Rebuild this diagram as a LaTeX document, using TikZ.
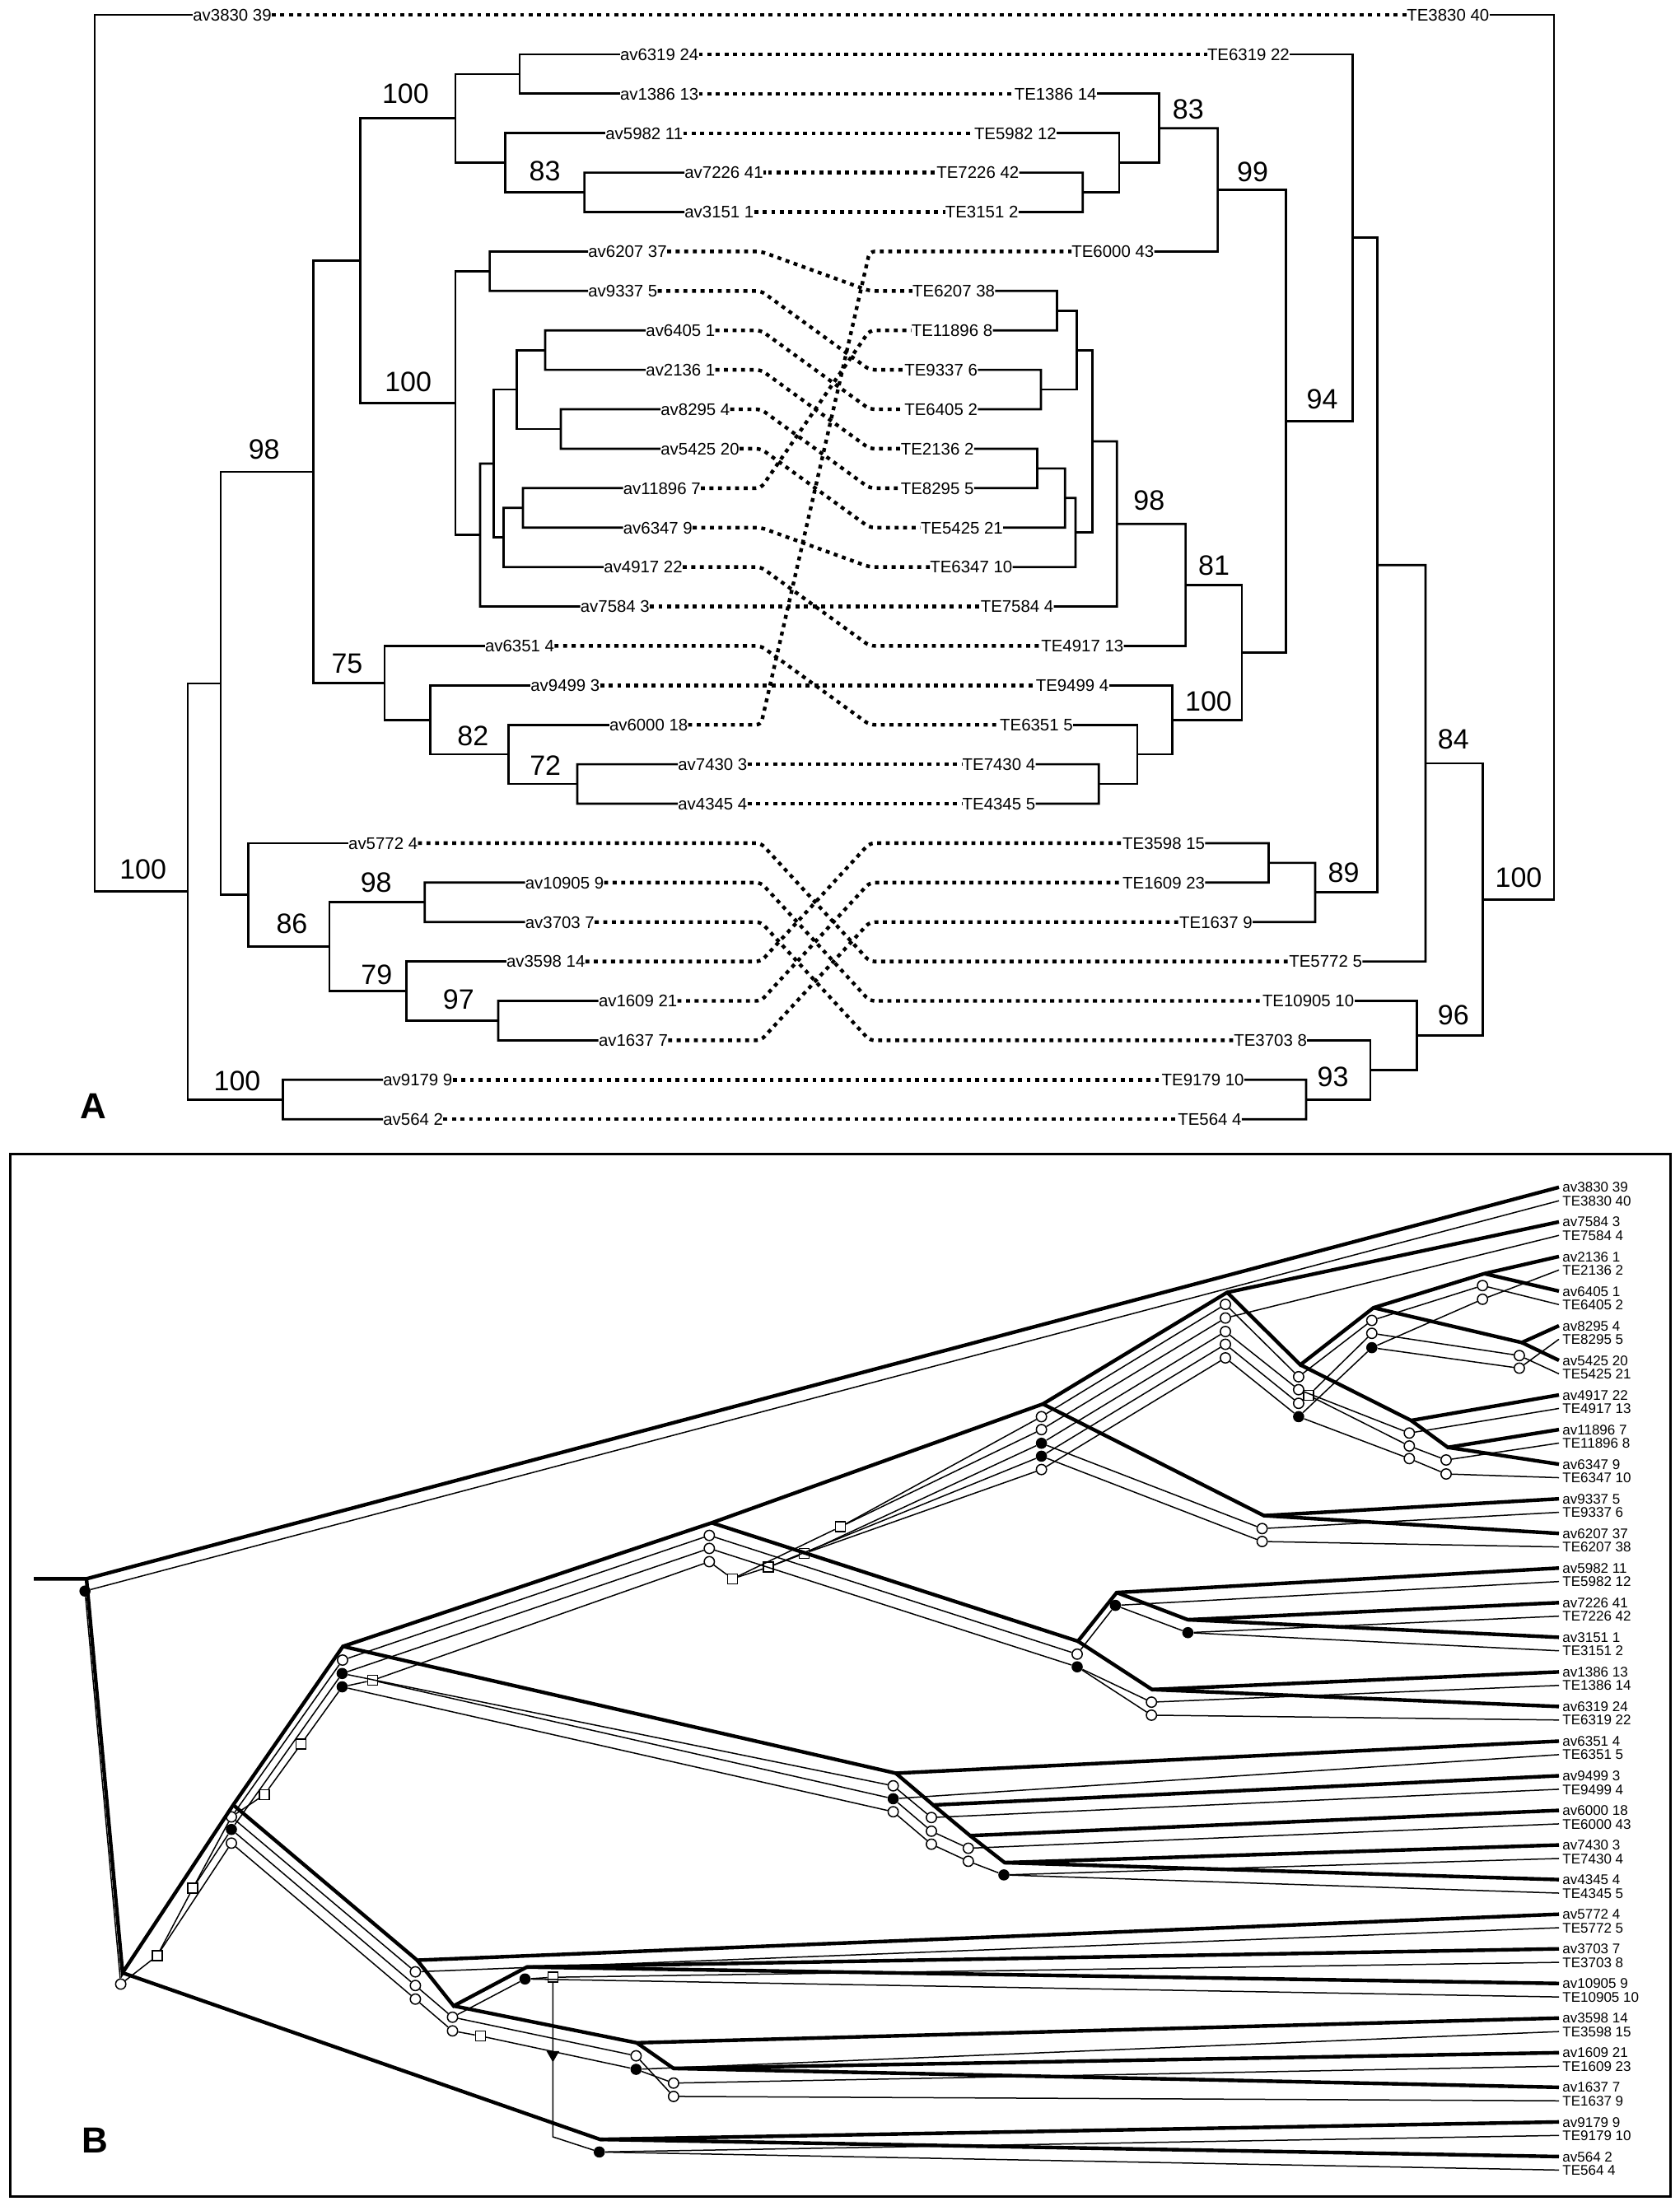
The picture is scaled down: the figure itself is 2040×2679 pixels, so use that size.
\documentclass[tikz,border=0pt]{standalone}
\usepackage{fontspec}
\setmainfont{Liberation Sans}
\usetikzlibrary{shapes.geometric}

\begin{document}
\begin{tikzpicture}[x=0.5pt, y=-0.5pt,
        br/.style={line width=1.35pt},
        assoc/.style={line width=2.2pt, dash pattern=on 2.4pt off 2.8pt, rounded corners=3pt},
        leaf/.style={anchor=west, inner sep=0pt, font=\fontsize{10.2}{12}\selectfont, text height=7.3pt, text depth=0pt},
        boot/.style={inner sep=0pt, font=\fontsize{17}{20}\selectfont},
        panel/.style={inner sep=0pt, font=\fontsize{22}{26}\selectfont\bfseries},
        host/.style={line width=2.2pt},
        para/.style={line width=0.75pt},
        bleaf/.style={anchor=west, inner xsep=2pt, inner ysep=0pt, font=\fontsize{8.5}{10}\selectfont, text height=6.1pt, text depth=0pt},
        loss/.style={circle, draw, line width=0.75pt, fill=white, inner sep=0pt, minimum size=6.2pt},
        cosp/.style={circle, fill=black, inner sep=0pt, minimum size=6.8pt},
        dupl/.style={rectangle, draw, line width=0.75pt, fill=white, inner sep=0pt, minimum size=6pt},
        swt/.style={regular polygon, regular polygon sides=3, shape border rotate=180, fill=black, inner sep=0pt, minimum size=9pt}
        ]
        \useasboundingbox (0,0) rectangle (2040,2679);

        % ---------- panel A: labels ----------
        \foreach \n/\s/\x [count=\i from 0] in {3830/39/234, 6319/24/752.6, 1386/13/752.6, 5982/11/735, 7226/41/831, 3151/1/831, 6207/37/714, 9337/5/714, 6405/1/784, 2136/1/784, 8295/4/802, 5425/20/802, 11896/7/756.5, 6347/9/756.5, 4917/22/733, 7584/3/704.5, 6351/4/588.7, 9499/3/644, 6000/18/739.6, 7430/3/823, 4345/4/823, 5772/4/422.8, 10905/9/637.5, 3703/7/637.5, 3598/14/614.7, 1609/21/726.6, 1637/7/726.6, 9179/9/465, 564/2/465}
            \node[leaf] (a\n) at (\x, {18+47.9*\i}) {av\n\ \s};
        \foreach \n/\s/\x [count=\i from 0] in {3830/40/1708, 6319/22/1465.6, 1386/14/1231.4, 5982/12/1182.6, 7226/42/1137, 3151/2/1147.5, 6000/43/1301, 6207/38/1107.8, 11896/8/1106.5, 9337/6/1098, 6405/2/1098, 2136/2/1093.5, 8295/5/1093.5, 5425/21/1117.6, 6347/10/1129, 7584/4/1190.4, 4917/13/1264, 9499/4/1257.4, 6351/5/1213.8, 7430/4/1168.3, 4345/5/1168.3, 3598/15/1362.8, 1609/23/1362.8, 1637/9/1431.8, 5772/5/1565, 10905/10/1532.6, 3703/8/1498, 9179/10/1410.3, 564/4/1430}
            \node[leaf] (t\n) at (\x, {18+47.9*\i}) {TE\n\ \s};

        % associations
        \coordinate (kl) at (924,0);
        \coordinate (kr) at (1056,0);
        \foreach \n in {3830, 6319, 1386, 5982, 7226, 3151, 6207, 9337, 6405, 2136, 8295, 5425, 11896, 6347, 4917, 7584, 6351, 9499, 6000, 7430, 4345, 5772, 10905, 3703, 3598, 1609, 1637, 9179, 564}
            \draw[assoc] (a\n.east) -- (a\n.east -| kl) -- (t\n.west -| kr) -- (t\n.west);

        % left tree
        \draw[br] (a3830.west) -| (115,1082.55) -- (228,1082.55);
        \draw[br] (268,829.85) -| (228,1335.25) -- (343.5,1335.25);
        \draw[br] (a9179.west) -| (343.5,1359.2) -- (a564.west);
        \draw[br] (380.5,572.95) -| (268,1086.75) -- (301.2,1086.75);
        \draw[br] (437.8,316.6) -| (380.5,829.3) -- (467,829.3);
        \draw[br] (553,143.7) -| (437.8,489.5) -- (553,489.5);
        \draw[br] (631,89.85) -| (553,197.6) -- (613.4,197.6);
        \draw[br] (a6319.west) -| (631,113.8) -- (a1386.west);
        \draw[br] (a5982.west) -| (613.4,233.55) -- (709.6,233.55);
        \draw[br] (a7226.west) -| (709.6,257.5) -- (a3151.west);
        \draw[br] (594.6,329.35) -| (553,649.7) -- (583,649.7);
        \draw[br] (a6207.west) -| (594.6,353.3) -- (a9337.west);
        \draw[br] (599.8,562.9) -| (583,736.5) -- (a7584.west);
        \draw[br] (627.7,473.05) -| (599.8,652.7) -- (611.5,652.7);
        \draw[br] (662,425.15) -| (627.7,520.95) -- (681,520.95);
        \draw[br] (a6405.west) -| (662,449.1) -- (a2136.west);
        \draw[br] (a8295.west) -| (681,544.9) -- (a5425.west);
        \draw[br] (635,616.75) -| (611.5,688.6) -- (a4917.west);
        \draw[br] (a11896.west) -| (635,640.7) -- (a6347.west);
        \draw[br] (a6351.west) -| (467,874.2) -- (522.6,874.2);
        \draw[br] (a9499.west) -| (522.6,916.1) -- (617.5,916.1);
        \draw[br] (a6000.west) -| (617.5,952) -- (701,952);
        \draw[br] (a7430.west) -| (701,976) -- (a4345.west);
        \draw[br] (a5772.west) -| (301.2,1149.6) -- (400,1149.6);
        \draw[br] (515.8,1095.75) -| (400,1203.5) -- (493.8,1203.5);
        \draw[br] (a10905.west) -| (515.8,1119.7) -- (a3703.west);
        \draw[br] (a3598.west) -| (493.8,1239.45) -- (605,1239.45);
        \draw[br] (a1609.west) -| (605,1263.4) -- (a1637.west);

        % right tree
        \draw[br] (t3830.east) -| (1887,1092.15) -- (1800.6,1092.15);
        \draw[br] (1731,926.9) -| (1800.6,1257.4) -- (1720.6,1257.4);
        \draw[br] (1672.5,686.2) -| (1731,1167.6) -- (t5772.east);
        \draw[br] (1642.5,288.65) -| (1672.5,1083.8) -- (1597,1083.8);
        \draw[br] (t6319.east) -| (1642.5,511.4) -- (1561.8,511.4);
        \draw[br] (1478.6,230.55) -| (1561.8,792.25) -- (1507.9,792.25);
        \draw[br] (1407.7,155.7) -| (1478.6,305.4) -- (t6000.east);
        \draw[br] (t1386.east) -| (1407.7,197.6) -- (1359,197.6);
        \draw[br] (t5982.east) -| (1359,233.55) -- (1314.7,233.55);
        \draw[br] (t7226.east) -| (1314.7,257.5) -- (t3151.east);
        \draw[br] (1439.6,710.3) -| (1507.9,874.2) -- (1423.3,874.2);
        \draw[br] (1356.3,636.2) -| (1439.6,784.4) -- (t4917.east);
        \draw[br] (1326.4,535.9) -| (1356.3,736.5) -- (t7584.east);
        \draw[br] (1307.6,425.15) -| (1326.4,646.7) -- (1306,646.7);
        \draw[br] (1283.5,377.25) -| (1307.6,473.05) -- (1264,473.05);
        \draw[br] (t6207.east) -| (1283.5,401.2) -- (t11896.east);
        \draw[br] (t9337.east) -| (1264,497) -- (t6405.east);
        \draw[br] (1293.2,604.8) -| (1306,688.6) -- (t6347.east);
        \draw[br] (1259.4,568.85) -| (1293.2,640.7) -- (t5425.east);
        \draw[br] (t2136.east) -| (1259.4,592.8) -- (t8295.east);
        \draw[br] (t9499.east) -| (1423.3,916.1) -- (1381,916.1);
        \draw[br] (t6351.east) -| (1381,952.05) -- (1334.2,952.05);
        \draw[br] (t7430.east) -| (1334.2,976) -- (t4345.east);
        \draw[br] (1540.4,1047.85) -| (1597,1119.7) -- (t1637.east);
        \draw[br] (t3598.east) -| (1540.4,1071.8) -- (t1609.east);
        \draw[br] (t10905.east) -| (1720.6,1299.3) -- (1664,1299.3);
        \draw[br] (t3703.east) -| (1664,1335.25) -- (1586,1335.25);
        \draw[br] (t9179.east) -| (1586,1359.2) -- (t564.east);

        % support values
        \node[boot] (s1) at (173.7,1056) {100};
        \node[boot] (s2) at (288,1312.6) {100};
        \node[boot] (s3) at (320.7,545.5) {98};
        \node[boot] (s4) at (421.5,806) {75};
        \node[boot] (s5) at (492.4,113.8) {100};
        \node[boot] (s6) at (495.7,464) {100};
        \node[boot] (s7) at (661.6,207.6) {83};
        \node[boot] (s8) at (574.4,893.4) {82};
        \node[boot] (s9) at (662.2,930) {72};
        \node[boot] (s10) at (354.5,1121.6) {86};
        \node[boot] (s11) at (456.7,1071.5) {98};
        \node[boot] (s12) at (457.3,1183.6) {79};
        \node[boot] (s13) at (556.8,1214) {97};
        \node[boot] (s14) at (1442.8,133) {83};
        \node[boot] (s15) at (1521,208.5) {99};
        \node[boot] (s16) at (1605.5,484.3) {94};
        \node[boot] (s17) at (1395.3,608) {98};
        \node[boot] (s18) at (1474,686.7) {81};
        \node[boot] (s19) at (1467.5,852) {100};
        \node[boot] (s20) at (1764.8,898) {84};
        \node[boot] (s21) at (1844,1065.6) {100};
        \node[boot] (s22) at (1631.5,1060) {89};
        \node[boot] (s23) at (1764.8,1233) {96};
        \node[boot] (s24) at (1618.5,1307.6) {93};
        \node[panel] (pa) at (113,1343) {A};

        % ---------- panel B ----------
        \draw[line width=1.5pt] (12,1401) rectangle (2028,2667);
        \node[panel] (pb) at (115,2599) {B};
        \foreach \n/\s/\t [count=\k from 0] in {3830/39/40, 7584/3/4, 2136/1/2, 6405/1/2, 8295/4/5, 5425/20/21, 4917/22/13, 11896/7/8, 6347/9/10, 9337/5/6, 6207/37/38, 5982/11/12, 7226/41/42, 3151/1/2, 1386/13/14, 6319/24/22, 6351/4/5, 9499/3/4, 6000/18/43, 7430/3/4, 4345/4/5, 5772/4/5, 3703/7/8, 10905/9/10, 3598/14/15, 1609/21/23, 1637/7/9, 9179/9/10, 564/2/4}
        {
            \node[bleaf] (ba\n) at (1893, {1441.8+42.04*\k}) {av\n\ \s};
            \node[bleaf] (bt\n) at (1893, {1458.2+42.04*\k}) {TE\n\ \t};
        }

        % host nodes
        \coordinate (h0) at (41.2,1917.3);
        \coordinate (hR) at (105,1917.3);
        \coordinate (h1) at (148.8,2395.8);
        \coordinate (h2) at (283.2,2191.9);
        \coordinate (h3) at (416.4,1999.4);
        \coordinate (h4) at (864.3,1849.3);
        \coordinate (h6) at (1266.4,1705);
        \coordinate (h7) at (1490.1,1569.5);
        \coordinate (h8) at (1579,1657.4);
        \coordinate (h9) at (1667.9,1588.1);
        \coordinate (h6405) at (1802.4,1546.7);
        \coordinate (h8295) at (1847.9,1630.4);
        \coordinate (h4917) at (1713.5,1725);
        \coordinate (h11896) at (1758.1,1757.7);
        \coordinate (h6207) at (1534.8,1840.6);
        \coordinate (h5) at (1308.9,1993.1);
        \coordinate (h5982) at (1356,1934);
        \coordinate (h7226) at (1442.4,1967);
        \coordinate (h6319) at (1399,2051.8);
        \coordinate (h75) at (1087.7,2153.4);
        \coordinate (h9499) at (1133.2,2192);
        \coordinate (h6000) at (1177.9,2229.2);
        \coordinate (h7430) at (1220,2262);
        \coordinate (h5772) at (506.6,2380.5);
        \coordinate (h86) at (550.8,2436);
        \coordinate (h98) at (639.7,2388.8);
        \coordinate (h79) at (773.2,2480.8);
        \coordinate (h97) at (817.9,2511.9);
        \coordinate (h9179) at (728.6,2598.1);

        % parasite events
        \node[cosp] (pR) at (103.2,1932.2) {};
        \node[loss] (p1) at (146.6,2409.5) {};
        \node[dupl] (sqA) at (190.8,2375.1) {};
        \node[dupl] (sqB) at (234.2,2293) {};
        \node[loss] (p2a) at (281,2206.4) {};
        \node[cosp] (p2b) at (281,2221.7) {};
        \node[loss] (p2c) at (281,2238.3) {};
        \node[dupl] (sqC) at (321,2179.5) {};
        \node[dupl] (sqD) at (365.6,2118) {};
        \node[loss] (p3a) at (416,2016) {};
        \node[cosp] (p3b) at (415.5,2032.3) {};
        \node[cosp] (p3c) at (415.5,2048.5) {};
        \node[dupl] (p3s) at (452.3,2040.6) {};
        \node[loss] (p4a) at (861.3,1864.6) {};
        \node[loss] (p4b) at (861.3,1880.4) {};
        \node[loss] (p4c) at (861.3,1896.5) {};
        \node[dupl] (sq1) at (889.5,1917.3) {};
        \node[dupl] (sq2) at (932.8,1903.2) {};
        \node[dupl] (sq3) at (976.6,1886.6) {};
        \node[dupl] (sq4) at (1020.4,1854.2) {};
        \node[loss] (p6a) at (1264.6,1720.4) {};
        \node[loss] (p6b) at (1264.6,1736.1) {};
        \node[cosp] (p6c) at (1264.6,1752.7) {};
        \node[cosp] (p6d) at (1264.6,1768.4) {};
        \node[loss] (p6e) at (1264.6,1784.6) {};
        \node[loss] (p7a) at (1488,1584) {};
        \node[loss] (p7b) at (1488,1600.6) {};
        \node[loss] (p7c) at (1488,1617) {};
        \node[loss] (p7d) at (1488,1632.5) {};
        \node[loss] (p7e) at (1488,1649) {};
        \node[loss] (p8a) at (1576.9,1671.9) {};
        \node[loss] (p8b) at (1576.9,1687.6) {};
        \node[loss] (p8c) at (1576.9,1704.2) {};
        \node[cosp] (p8d) at (1576.9,1720.4) {};
        \node[dupl] (p8s) at (1589,1694.5) {};
        \node[loss] (p9a) at (1665.8,1603.5) {};
        \node[loss] (p9b) at (1665.8,1619.2) {};
        \node[cosp] (p9c) at (1665.8,1636.6) {};
        \node[loss] (q1a) at (1800.2,1561.2) {};
        \node[loss] (q1b) at (1800.2,1577.8) {};
        \node[loss] (q2a) at (1844.9,1646.2) {};
        \node[loss] (q2b) at (1844.9,1661.5) {};
        \node[loss] (q3a) at (1711.3,1740.3) {};
        \node[loss] (q3b) at (1711.3,1756) {};
        \node[loss] (q3c) at (1711.3,1771.3) {};
        \node[loss] (q4a) at (1756,1773) {};
        \node[loss] (q4b) at (1756,1790) {};
        \node[loss] (q5a) at (1532.6,1856.3) {};
        \node[loss] (q5b) at (1532.6,1872) {};
        \node[loss] (p5a) at (1308,2008.8) {};
        \node[cosp] (p5b) at (1308,2024.2) {};
        \node[cosp] (q6) at (1354.4,1949.6) {};
        \node[cosp] (q7) at (1442.4,1982.7) {};
        \node[loss] (q8a) at (1398.2,2067.1) {};
        \node[loss] (q8b) at (1398.2,2082.9) {};
        \node[loss] (r1) at (1084.6,2168.7) {};
        \node[cosp] (r2) at (1084.6,2184.4) {};
        \node[loss] (r3) at (1084.6,2200.2) {};
        \node[loss] (r4) at (1131,2207.2) {};
        \node[loss] (r5) at (1131,2223.8) {};
        \node[loss] (r6) at (1131,2239.6) {};
        \node[loss] (r7) at (1175.8,2244.5) {};
        \node[loss] (r8) at (1175.8,2260.3) {};
        \node[cosp] (r9) at (1219,2276.9) {};
        \node[loss] (c1) at (504.4,2394.6) {};
        \node[loss] (c2) at (504.4,2411.2) {};
        \node[loss] (c3) at (504.4,2427.7) {};
        \node[loss] (d1) at (549.5,2449.7) {};
        \node[loss] (d2) at (549.5,2466.3) {};
        \node[dupl] (sqh) at (583.3,2472.5) {};
        \node[cosp] (e) at (637.5,2403.3) {};
        \node[dupl] (sqf) at (671.4,2401.2) {};
        \coordinate (vb) at (671.4,2595);
        \node[loss] (j) at (772.4,2496.6) {};
        \node[cosp] (i) at (772.4,2513) {};
        \node[loss] (k1) at (817.9,2529.7) {};
        \node[loss] (k2) at (817.9,2545.9) {};
        \node[cosp] (g) at (727.7,2613.4) {};

        % parasite lineages
        \draw[para] (pR) -- (bt3830.west);
        \draw[para] (pR) -- (p1);
        \draw[para] (p1) -- (sqA) -- (sqB) -- (p2a);
        \draw[para] (sqA) -- (p2c);
        \draw[para] (sqB) -- (p2b);
        \draw[para] (p2a) -- (sqC) -- (sqD) -- (p3c);
        \draw[para] (p2a) -- (p3a);
        \draw[para] (p2b) -- (p3b);
        \draw[para] (p2a) -- (c1);
        \draw[para] (p2b) -- (c2);
        \draw[para] (p2c) -- (c3);
        \draw[para] (p3a) -- (p4a);
        \draw[para] (p3b) -- (p4b);
        \draw[para] (p3c) -- (p3s) -- (p4c);
        \draw[para] (p3b) -- (r1);
        \draw[para] (p3s) -- (r2);
        \draw[para] (p3c) -- (r3);
        \draw[para] (p4a) -- (p5a);
        \draw[para] (p4b) -- (p5b);
        \draw[para] (p4c) -- (sq1) -- (sq2) -- (sq3);
        \draw[para] (sq1) -- (sq4);
        \draw[para] (sq4) -- (p6a);
        \draw[para] (sq4) -- (p6b);
        \draw[para] (sq3) -- (p6c);
        \draw[para] (sq2) -- (p6d);
        \draw[para] (sq3) -- (p6e);
        \draw[para] (p6a) -- (p7a);
        \draw[para] (p6b) -- (p7b);
        \draw[para] (p6c) -- (p7c);
        \draw[para] (p6d) -- (p7d);
        \draw[para] (p6e) -- (p7e);
        \draw[para] (p6c) -- (q5a);
        \draw[para] (p6d) -- (q5b);
        \draw[para] (q5a) -- (bt9337.west);
        \draw[para] (q5b) -- (bt6207.west);
        \draw[para] (p7b) -- (bt7584.west);
        \draw[para] (p7a) -- (p8a);
        \draw[para] (p7c) -- (p8b);
        \draw[para] (p7d) -- (p8c);
        \draw[para] (p7e) -- (p8d);
        \draw[para] (p8a) -- (p9a);
        \draw[para] (p8b) -- (q3a);
        \draw[para] (p8c) -- (p8s);
        \draw[para] (p8s) -- (p9b);
        \draw[para] (p8s) -- (q3b);
        \draw[para] (p8d) -- (p9c);
        \draw[para] (p8d) -- (q3c);
        \draw[para] (p9a) -- (q1a);
        \draw[para] (p9c) -- (q1b);
        \draw[para] (p9b) -- (q2a);
        \draw[para] (p9c) -- (q2b);
        \draw[para] (q1a) -- (bt6405.west);
        \draw[para] (q1b) -- (bt2136.west);
        \draw[para] (q2a) -- (bt5425.west);
        \draw[para] (q2b) -- (bt8295.west);
        \draw[para] (q3a) -- (bt4917.west);
        \draw[para] (q3b) -- (q4a);
        \draw[para] (q3c) -- (q4b);
        \draw[para] (q4a) -- (bt11896.west);
        \draw[para] (q4b) -- (bt6347.west);
        \draw[para] (p5a) -- (q6);
        \draw[para] (p5b) -- (q8a);
        \draw[para] (p5b) -- (q8b);
        \draw[para] (q6) -- (bt5982.west);
        \draw[para] (q6) -- (q7);
        \draw[para] (q7) -- (bt7226.west);
        \draw[para] (q7) -- (bt3151.west);
        \draw[para] (q8a) -- (bt1386.west);
        \draw[para] (q8b) -- (bt6319.west);
        \draw[para] (r1) -- (r4);
        \draw[para] (r2) -- (bt6351.west);
        \draw[para] (r2) -- (r5);
        \draw[para] (r3) -- (r6);
        \draw[para] (r4) -- (bt9499.west);
        \draw[para] (r5) -- (r7);
        \draw[para] (r6) -- (r8);
        \draw[para] (r7) -- (bt6000.west);
        \draw[para] (r8) -- (r9);
        \draw[para] (r9) -- (bt7430.west);
        \draw[para] (r9) -- (bt4345.west);
        \draw[para] (c1) -- (bt5772.west);
        \draw[para] (c2) -- (d1);
        \draw[para] (c3) -- (d2);
        \draw[para] (d1) -- (e);
        \draw[para] (d1) -- (j);
        \draw[para] (d2) -- (sqh) -- (i);
        \draw[para] (e) -- (bt10905.west);
        \draw[para] (e) -- (sqf);
        \draw[para] (sqf) -- (bt3703.west);
        \draw[para] (sqf) -- (vb) -- (g);
        \node[swt] (tri) at (671.4,2495.3) {};
        \draw[para] (g) -- (bt9179.west);
        \draw[para] (g) -- (bt564.west);
        \draw[para] (i) -- (bt3598.west);
        \draw[para] (i) -- (k1);
        \draw[para] (j) -- (k2);
        \draw[para] (k1) -- (bt1609.west);
        \draw[para] (k2) -- (bt1637.west);

        % host tree
        \draw[host] (h0) -- (hR) -- (ba3830.west);
        \draw[host] (hR) -- (h1) -- (h2) -- (h3) -- (h4) -- (h6) -- (h7) -- (ba7584.west);
        \draw[host] (h1) -- (h9179) -- (ba9179.west);
        \draw[host] (h9179) -- (ba564.west);
        \draw[host] (h2) -- (h5772) -- (ba5772.west);
        \draw[host] (h5772) -- (h86) -- (h98) -- (ba3703.west);
        \draw[host] (h98) -- (ba10905.west);
        \draw[host] (h86) -- (h79) -- (ba3598.west);
        \draw[host] (h79) -- (h97) -- (ba1609.west);
        \draw[host] (h97) -- (ba1637.west);
        \draw[host] (h3) -- (h75) -- (ba6351.west);
        \draw[host] (h75) -- (h9499) -- (ba9499.west);
        \draw[host] (h9499) -- (h6000) -- (ba6000.west);
        \draw[host] (h6000) -- (h7430) -- (ba7430.west);
        \draw[host] (h7430) -- (ba4345.west);
        \draw[host] (h4) -- (h5) -- (h5982) -- (ba5982.west);
        \draw[host] (h5982) -- (h7226) -- (ba7226.west);
        \draw[host] (h7226) -- (ba3151.west);
        \draw[host] (h5) -- (h6319) -- (ba1386.west);
        \draw[host] (h6319) -- (ba6319.west);
        \draw[host] (h6) -- (h6207) -- (ba9337.west);
        \draw[host] (h6207) -- (ba6207.west);
        \draw[host] (h7) -- (h8) -- (h9) -- (h6405) -- (ba2136.west);
        \draw[host] (h6405) -- (ba6405.west);
        \draw[host] (h9) -- (h8295) -- (ba8295.west);
        \draw[host] (h8295) -- (ba5425.west);
        \draw[host] (h8) -- (h4917) -- (ba4917.west);
        \draw[host] (h4917) -- (h11896) -- (ba11896.west);
        \draw[host] (h11896) -- (ba6347.west);
    \end{tikzpicture}
\end{document}
